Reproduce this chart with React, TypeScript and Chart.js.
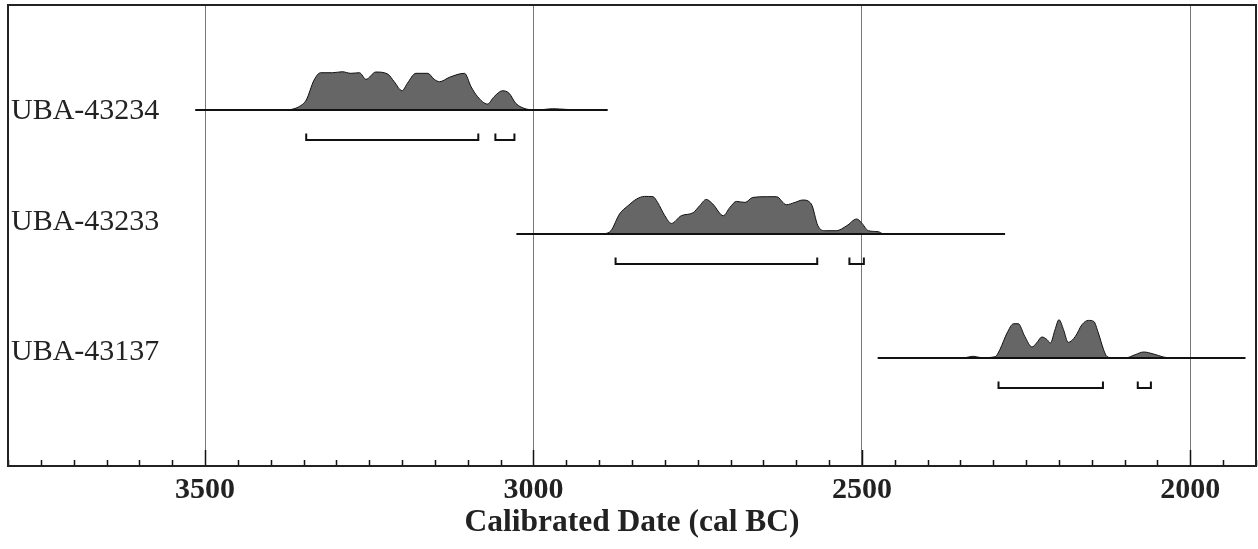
import React, { useEffect, useRef } from "react";
import { Chart, registerables } from "chart.js";

Chart.register(...registerables);

// ---- data ----
const SAMPLES = ["UBA-43234", "UBA-43233", "UBA-43137"];
const ROW_BASE = [3, 2, 1];

// calibrated probability distributions (year cal BC, relative density)
const YEARS_43234 = [3372, 3358, 3346, 3334, 3324, 3306, 3291, 3278, 3265, 3255, 3240, 3222, 3212, 3200, 3192, 3179, 3161, 3151, 3143, 3128, 3105, 3095, 3085, 3070, 3060, 3047, 3037, 3027, 3011, 3001, 2985, 2971, 2950, 2925];
const DENS_43234 = [0, 3, 10, 30, 37.3, 37.3, 38.3, 36.7, 37.3, 30.7, 38, 36, 28.3, 19.3, 26.7, 36.7, 36.7, 30.7, 28.3, 32.7, 36.7, 23.3, 13.3, 6, 13.3, 19.3, 16.7, 6.7, 1, 0.3, 0.5, 1.3, 0.6, 0];

const YEARS_43233 = [2892, 2882, 2869, 2856, 2843, 2831, 2818, 2811, 2800, 2790, 2775, 2757, 2747, 2737, 2727, 2711, 2701, 2691, 2678, 2666, 2645, 2630, 2615, 2602, 2590, 2577, 2567, 2556, 2539, 2523, 2508, 2501, 2490, 2475, 2468];
const DENS_43233 = [0, 3.3, 20, 28.3, 35, 37.6, 37.3, 31.6, 18.3, 10.6, 18.3, 21.3, 28.3, 34.6, 30, 18.3, 26.6, 32.6, 31.6, 36.6, 37.3, 37.3, 29.3, 31.6, 34, 30, 8.3, 3.3, 3.3, 8.3, 15, 11.6, 3.3, 2.3, 0];

const YEARS_43137 = [2345, 2330, 2318, 2297, 2290, 2279, 2269, 2262, 2252, 2241, 2234, 2226, 2218, 2213, 2206, 2200, 2193, 2186, 2175, 2165, 2155, 2147, 2140, 2132, 2127, 2117, 2097, 2084, 2071, 2056, 2041, 2030];
const DENS_43137 = [0, 1.7, 0.3, 1.3, 8.3, 25, 34.3, 34.3, 21.6, 11, 15, 21, 18.3, 15, 28.3, 38.3, 28.3, 15.6, 21.6, 33.3, 37.6, 36.6, 25, 8.3, 1.6, 0, 0.3, 3.3, 6, 4, 1, 0];

// extent of the plotted calibration range (baseline)
const RANGE_43234 = [3515, 2887];
const RANGE_43233 = [3026, 2282];
const RANGE_43137 = [2476, 1916];

// 95.4% highest posterior density ranges
const HPD_43234 = [[3346, 3084], [3058, 3029]];
const HPD_43233 = [[2875, 2568], [2519, 2497]];
const HPD_43137 = [[2292, 2133], [2080, 2060]];

const X_LEFT = 3800;
const X_RIGHT = 1900;
const MAJOR_STEP = 500;
const MINOR_STEP = 50;
const AXIS_TITLE = "Calibrated Date (cal BC)";

const YEARS = [YEARS_43234, YEARS_43233, YEARS_43137];
const DENS = [DENS_43234, DENS_43233, DENS_43137];
const RANGES = [RANGE_43234, RANGE_43233, RANGE_43137];
const HPDS = [HPD_43234, HPD_43233, HPD_43137];

const DENS_SCALE = 1 / 124; // density units -> row units
const BRACKET_TIP = 0.19;
const BRACKET_LINE = 0.242;
const LABEL_DY = [1, -12, -6];

const SERIF = "'Liberation Serif', 'Times New Roman', serif";

export default function App() {
  const ref = useRef<HTMLCanvasElement | null>(null);

  useEffect(() => {
    if (!ref.current) return;
    const datasets: any[] = [];

    // baselines (on top)
    SAMPLES.forEach((s, i) => {
      const b = ROW_BASE[i];
      datasets.push({
        label: s + " range",
        data: RANGES[i].map((x) => ({ x, y: b })),
        borderColor: "#111",
        borderWidth: 2,
        pointRadius: 0,
        fill: false,
        order: 0,
      });
    });

    // HPD brackets
    SAMPLES.forEach((s, i) => {
      const b = ROW_BASE[i];
      const pts: any[] = [];
      HPDS[i].forEach(([a, c], k) => {
        if (k > 0) pts.push({ x: (a + HPDS[i][k - 1][1]) / 2, y: null });
        pts.push({ x: a, y: b - BRACKET_TIP });
        pts.push({ x: a, y: b - BRACKET_LINE });
        pts.push({ x: c, y: b - BRACKET_LINE });
        pts.push({ x: c, y: b - BRACKET_TIP });
      });
      datasets.push({
        label: s + " hpd",
        data: pts,
        borderColor: "#111",
        borderWidth: 2,
        pointRadius: 0,
        spanGaps: false,
        fill: false,
        order: 1,
      });
    });

    // distributions
    SAMPLES.forEach((s, i) => {
      const b = ROW_BASE[i];
      datasets.push({
        label: s,
        data: YEARS[i].map((x, k) => ({ x, y: b + DENS[i][k] * DENS_SCALE })),
        borderColor: "#111",
        borderWidth: 1,
        backgroundColor: "#666666",
        pointRadius: 0,
        cubicInterpolationMode: "monotone",
        fill: { value: b },
        order: 2,
      });
    });

    const decor = {
      id: "decor",
      afterDatasetsDraw(chart: any) {
        const { ctx, chartArea, scales } = chart;
        const xs = scales.x;
        const ys = scales.y;
        ctx.save();
        // tick marks inside the frame
        ctx.strokeStyle = "#111";
        ctx.lineWidth = 1.5;
        for (let v = X_RIGHT; v <= X_LEFT; v += MINOR_STEP) {
          const px = Math.round(xs.getPixelForValue(v)) + 0.5;
          const len = v % MAJOR_STEP === 0 ? 16 : 6;
          ctx.beginPath();
          ctx.moveTo(px, chartArea.bottom);
          ctx.lineTo(px, chartArea.bottom - len);
          ctx.stroke();
        }
        // frame
        ctx.strokeStyle = "#222";
        ctx.lineWidth = 2;
        ctx.strokeRect(chartArea.left, chartArea.top, chartArea.right - chartArea.left, chartArea.bottom - chartArea.top);
        // row labels
        ctx.fillStyle = "#222";
        ctx.font = "30px " + SERIF;
        ctx.textBaseline = "middle";
        ctx.textAlign = "left";
        SAMPLES.forEach((s, i) => {
          ctx.fillText(s, chartArea.left + 3, ys.getPixelForValue(ROW_BASE[i]) + LABEL_DY[i]);
        });
        ctx.restore();
      },
    };

    const chart = new Chart(ref.current, {
      type: "line",
      data: { datasets },
      plugins: [decor],
      options: {
        animation: false,
        responsive: false,
        devicePixelRatio: 1,
        layout: { padding: { left: 8, right: 2, top: 5, bottom: 0 } },
        plugins: { legend: { display: false }, tooltip: { enabled: false } },
        scales: {
          x: {
            type: "linear",
            reverse: true,
            min: X_RIGHT,
            max: X_LEFT,
            afterFit: (scale: any) => {
              scale.height = 83;
            },
            border: { display: true, color: "#111", width: 2 },
            grid: {
              drawTicks: true,
              tickLength: 6,
              tickColor: "rgba(0,0,0,0)",
              lineWidth: 1,
              color: (c: any) =>
                c.tick && c.tick.value % MAJOR_STEP === 0 ? "#777" : "rgba(0,0,0,0)",
            },
            ticks: {
              stepSize: MINOR_STEP,
              autoSkip: false,
              maxRotation: 0,
              padding: 0,
              color: "#222",
              font: { family: SERIF, size: 30, weight: "bold" },
              callback: (v: any) => (Number(v) % MAJOR_STEP === 0 ? String(v) : ""),
            },
            title: {
              display: true,
              text: AXIS_TITLE,
              color: "#222",
              font: { family: SERIF, size: 31.5, weight: "bold" },
              padding: { top: 0, bottom: 7 },
            },
          },
          y: {
            type: "linear",
            display: false,
            min: 0.129,
            max: 3.847,
          },
        },
      } as any,
    });
    return () => chart.destroy();
  }, []);

  return (
    <div style={{ position: "fixed", left: 0, top: 0, width: 1258, height: 549, background: "#fff" }}>
      <canvas ref={ref} width={1258} height={549} />
    </div>
  );
}
